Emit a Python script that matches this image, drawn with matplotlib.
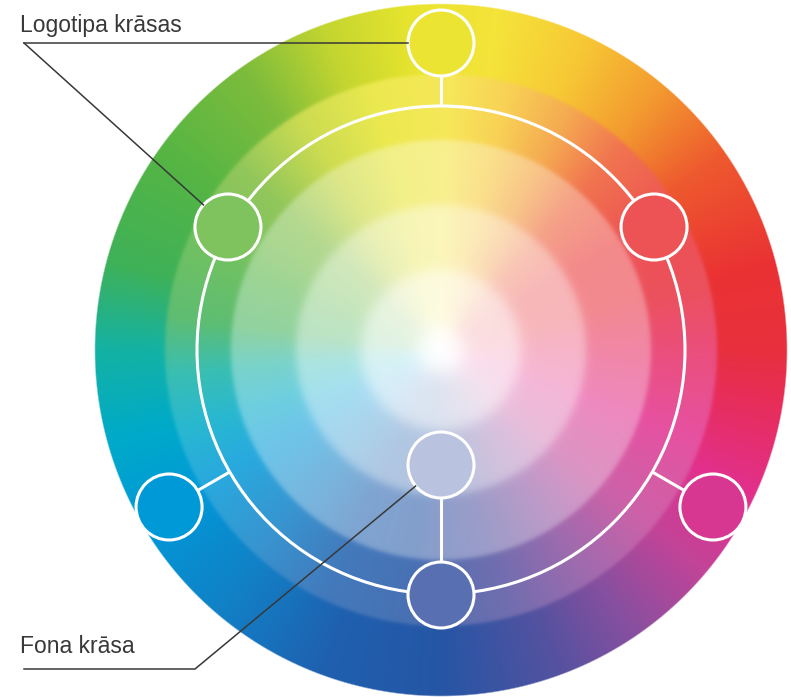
import numpy as np
import matplotlib
matplotlib.use("Agg")
import matplotlib.pyplot as plt
from matplotlib.patches import Circle
from matplotlib.colors import to_rgb

# --- wheel colours (angle in degrees, counter-clockwise from the right) ---
hue_angles = [0, 15, 35, 50, 65, 80, 95, 110, 125, 145, 165, 180,
              195, 210, 230, 250, 270, 290, 305, 320, 335, 350]
hue_colors = ['#E8303E', '#EA3233', '#EE5A2E', '#F39A30', '#F7C835', '#F5E33A',
              '#E8E52E', '#C3D530', '#7DBC3C', '#55B544', '#3FB158', '#14B2A4',
              '#00AAC8', '#0099D8', '#1280C6', '#1F60AF', '#2556A5', '#5452A0',
              '#8A4F9F', '#C24498', '#E2308E', '#E72D5C']

# the inner bands are slightly rotated against the outer band
shift_angles = [0, 30, 90, 150, 205, 270, 320]
shift_degrees = [-12, -16, -8, -14, 0, 8, 0]

# concentric bands: outer radius of each band and how much white is mixed in
band_radii = [346, 276, 210, 145, 80, 25]
band_tints = [0.0, 0.16, 0.43, 0.65, 0.84, 0.95]
band_soft = [1.0, 1.0, 1.3, 2.5, 4.0, 5.0]

# small circles around the wheel: angle and distance from the centre
dot_angles = [90, 150, 30, 210, 330, 270]
dot_dists = [307, 246, 246, 314, 314, 245]
inner_angle, inner_dist = 270, 115

labels = ['Logotipa krāsas', 'Fona krāsa']

W, H = 791, 697
CX, CY = 441, 350
RING_R = 244
DOT_R = 33


def hue_rgb(ang):
    a = np.append(hue_angles, hue_angles[0] + 360)
    cols = np.array([to_rgb(c) for c in hue_colors + [hue_colors[0]]])
    ang = np.mod(ang, 360)
    return np.stack([np.interp(ang, a, cols[:, k]) for k in range(3)], axis=-1)


def sig(z):
    return 1 / (1 + np.exp(-z))


def wheel_rgb(x, y):
    dx = x - CX
    dy = CY - y
    r = np.hypot(dx, dy)
    ang = np.mod(np.degrees(np.arctan2(dy, dx)), 360)

    sa = np.append(shift_angles, shift_angles[0] + 360)
    sd = np.append(shift_degrees, shift_degrees[0])
    shift = np.interp(ang, sa, sd)

    w_in = sig((band_radii[1] - r) / band_soft[1])[..., None]
    rgb = hue_rgb(ang) * (1 - w_in) + hue_rgb(ang + shift) * w_in

    tint = np.full(np.shape(r), band_tints[0], dtype=float)
    for i in range(1, len(band_radii)):
        step = sig((band_radii[i] - r) / band_soft[i])
        tint = tint + (band_tints[i] - band_tints[i - 1]) * step
    tint = tint + (1 - band_tints[-1]) * np.clip(1 - r / band_radii[-1], 0, 1)
    rgb = rgb * (1 - tint[..., None]) + tint[..., None]
    return rgb, r


def polar(angle, dist):
    t = np.radians(angle)
    return CX + dist * np.cos(t), CY - dist * np.sin(t)


fig = plt.figure(figsize=(W / 100, H / 100), dpi=100)
ax = fig.add_axes([0, 0, 1, 1])
ax.set_xlim(0, W)
ax.set_ylim(H, 0)
ax.axis('off')

xx, yy = np.meshgrid(np.arange(W) + 0.5, np.arange(H) + 0.5)
rgb, rr = wheel_rgb(xx, yy)
alpha = np.clip((band_radii[0] - rr) / 1.5 + 0.5, 0, 1)
img = np.dstack([rgb, alpha])
ax.imshow(img, extent=(0, W, H, 0), origin='upper', interpolation='bilinear', zorder=1)

white = 'white'
lw = 2.2

# big ring
ax.add_patch(Circle((CX, CY), RING_R, fill=False, ec=white, lw=lw, zorder=3))

# connectors from ring to the outer dots
for ang, d in zip(dot_angles, dot_dists):
    if d > RING_R + DOT_R:
        x0, y0 = polar(ang, RING_R)
        x1, y1 = polar(ang, d - DOT_R)
        ax.plot([x0, x1], [y0, y1], color=white, lw=lw, zorder=3, solid_capstyle='butt')

# connector between the inner dot and the bottom dot
x0, y0 = polar(inner_angle, inner_dist + DOT_R)
x1, y1 = polar(270, dot_dists[-1] - DOT_R)
ax.plot([x0, x1], [y0, y1], color=white, lw=lw, zorder=3, solid_capstyle='butt')

# dots, filled with the wheel colour under their centre
for ang, d in list(zip(dot_angles, dot_dists)) + [(inner_angle, inner_dist)]:
    cx, cy = polar(ang, d)
    col, _ = wheel_rgb(np.array([cx]), np.array([cy]))
    ax.add_patch(Circle((cx, cy), DOT_R, fc=col[0], ec=white, lw=lw, zorder=4))

# callouts
dark = '#383838'
font = ['Liberation Sans', 'DejaVu Sans']

tx, ty = polar(dot_angles[0], dot_dists[0])
ax.plot([24, tx - DOT_R], [ty, ty], color=dark, lw=1.1, zorder=5)
gx, gy = polar(dot_angles[1], dot_dists[1])
v = np.array([gx - 24, gy - ty])
v = v / np.hypot(*v)
ax.plot([24, gx - DOT_R * v[0]], [ty, gy - DOT_R * v[1]], color=dark, lw=1.1, zorder=5)
ax.text(20, 32, labels[0], fontsize=16.5, family=font, color=dark, va='baseline', zorder=6)

bx, by = 195, 669
ix, iy = polar(inner_angle, inner_dist)
v = np.array([ix - bx, iy - by])
v = v / np.hypot(*v)
ax.plot([24, bx, ix - DOT_R * v[0]], [by, by, iy - DOT_R * v[1]], color=dark, lw=1.1, zorder=5)
ax.text(20, 653, labels[1], fontsize=16.5, family=font, color=dark, va='baseline', zorder=6)

fig.savefig('out.png', dpi=100, facecolor='white')
